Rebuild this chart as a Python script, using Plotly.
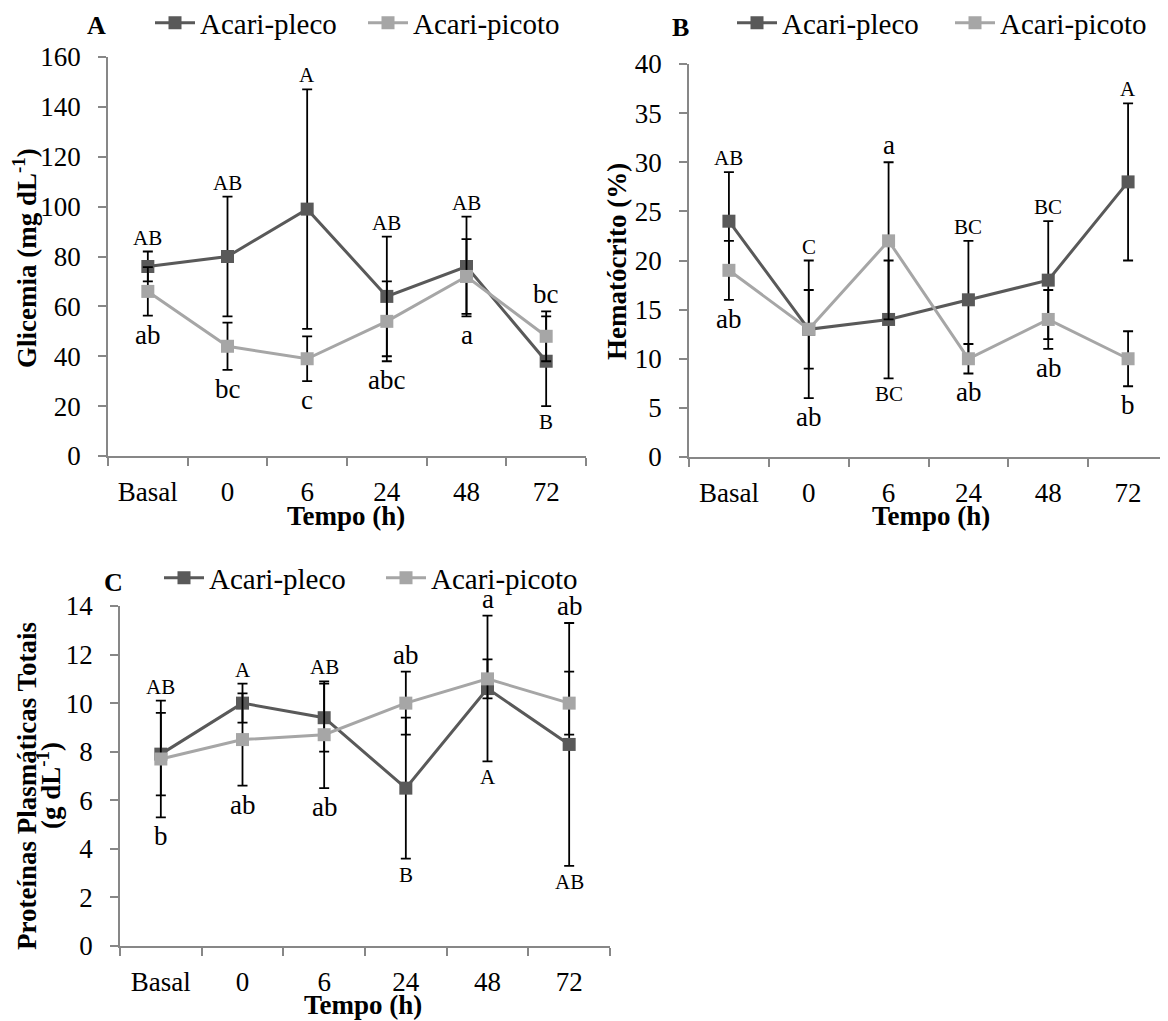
import plotly.graph_objects as go

categories = ["Basal", "0", "6", "24", "48", "72"]
series_names = ["Acari-pleco", "Acari-picoto"]

# Panel A - Glicemia (mg dL-1)
glic_pleco = [76, 80, 99, 64, 76, 38]
glic_pleco_err = [6, 24, 48, 24, 20, 18]
glic_picoto = [66, 44, 39, 54, 72, 48]
glic_picoto_err = [9.7, 9.5, 9, 16, 15, 10]
glic_pleco_lbl = ["AB", "AB", "A", "AB", "AB", "B"]
glic_pleco_side = ["above", "above", "above", "above", "above", "below"]
glic_picoto_lbl = ["ab", "bc", "c", "abc", "a", "bc"]
glic_picoto_side = ["below", "below", "below", "below", "below", "above"]

# Panel B - Hematocrito (%)
hema_pleco = [24, 13, 14, 16, 18, 28]
hema_pleco_err = [5, 7, 6, 6, 6, 8]
hema_picoto = [19, 13, 22, 10, 14, 10]
hema_picoto_err = [3, 4, 8, 1.5, 3, 2.8]
hema_pleco_lbl = ["AB", "C", "BC", "BC", "BC", "A"]
hema_pleco_side = ["above", "above", "below", "above", "above", "above"]
hema_picoto_lbl = ["ab", "ab", "a", "ab", "ab", "b"]
hema_picoto_side = ["below", "below", "above", "below", "below", "below"]

# Panel C - Proteinas plasmaticas totais (g dL-1)
prot_pleco = [7.9, 10.0, 9.4, 6.5, 10.6, 8.3]
prot_pleco_err = [1.7, 0.8, 1.4, 2.9, 3.0, 5.0]
prot_picoto = [7.7, 8.5, 8.7, 10.0, 11.0, 10.0]
prot_picoto_err = [2.4, 1.9, 2.2, 1.3, 0.8, 1.3]
prot_pleco_lbl = ["AB", "A", "AB", "B", "A", "AB"]
prot_pleco_side = ["above", "above", "above", "below", "below", "below"]
prot_picoto_lbl = ["b", "ab", "ab", "ab", "a", "ab"]
prot_picoto_side = ["below", "below", "below", "above", "above", "above"]

FONT = "Liberation Serif"
C_PLECO = "#595959"
C_PICOTO = "#a6a6a6"
AXC = "#878787"
OFF = 8                    # page body margin
FW, FH = 1160, 1013        # figure size


def PX(x):
    return (x - OFF) / FW


def PY(y):
    return 1 - (y - OFF) / FH


fig = go.Figure()

panels = [
    dict(x="x", y="y", xa="xaxis", ya="yaxis", leg="legend", yr=[0, 160], dt=20,
         d1=glic_pleco, e1=glic_pleco_err, d2=glic_picoto, e2=glic_picoto_err,
         l1=glic_pleco_lbl, s1=glic_pleco_side, l2=glic_picoto_lbl, s2=glic_picoto_side,
         px=(108, 586), py=(57, 456)),
    dict(x="x2", y="y2", xa="xaxis2", ya="yaxis2", leg="legend2", yr=[0, 40], dt=5,
         d1=hema_pleco, e1=hema_pleco_err, d2=hema_picoto, e2=hema_picoto_err,
         l1=hema_pleco_lbl, s1=hema_pleco_side, l2=hema_picoto_lbl, s2=hema_picoto_side,
         px=(689, 1168), py=(64, 457)),
    dict(x="x3", y="y3", xa="xaxis3", ya="yaxis3", leg="legend3", yr=[0, 14], dt=2,
         d1=prot_pleco, e1=prot_pleco_err, d2=prot_picoto, e2=prot_picoto_err,
         l1=prot_pleco_lbl, s1=prot_pleco_side, l2=prot_picoto_lbl, s2=prot_picoto_side,
         px=(120, 610), py=(606, 946)),
]

annotations = []
layout_axes = {}
for p in panels:
    for name, d, e, col in [(series_names[0], p["d1"], p["e1"], C_PLECO),
                            (series_names[1], p["d2"], p["e2"], C_PICOTO)]:
        fig.add_trace(go.Scatter(
            x=categories, y=d, name=name, mode="lines+markers",
            xaxis=p["x"], yaxis=p["y"], legend=p["leg"],
            line=dict(color=col, width=3),
            marker=dict(symbol="square", size=13, color=col),
            error_y=dict(type="data", array=e, visible=True, color="black",
                         thickness=1.8, width=5),
        ))
    ups = [max(a + b, c + f) for a, b, c, f in zip(p["d1"], p["e1"], p["d2"], p["e2"])]
    los = [min(a - b, c - f) for a, b, c, f in zip(p["d1"], p["e1"], p["d2"], p["e2"])]
    for lbls, sides, fs in [(p["l1"], p["s1"], 21), (p["l2"], p["s2"], 27)]:
        for i, (t, s) in enumerate(zip(lbls, sides)):
            above = s == "above"
            annotations.append(dict(
                x=i, y=ups[i] if above else los[i], xref=p["x"], yref=p["y"],
                text=t, showarrow=False, xanchor="center",
                yanchor="bottom" if above else "top",
                yshift=1 if above else -3, borderpad=0,
                font=dict(family=FONT, size=fs, color="black")))
    layout_axes[p["xa"]] = dict(
        domain=[PX(p["px"][0]), min(1.0, PX(p["px"][1]))], anchor=p["y"], type="category",
        range=[-0.5, 5.5], showline=True, linecolor=AXC, linewidth=1.5,
        ticks="outside", tickson="boundaries", ticklen=8, tickcolor=AXC, tickwidth=1.5,
        ticklabelstandoff=11, showgrid=False, zeroline=False,
        tickfont=dict(family=FONT, size=27, color="black"))
    layout_axes[p["ya"]] = dict(
        domain=[PY(p["py"][1]), PY(p["py"][0])], anchor=p["x"],
        range=p["yr"], dtick=p["dt"], showline=True, linecolor=AXC, linewidth=1.5,
        ticks="outside", ticklen=8, tickcolor=AXC, tickwidth=1.5,
        ticklabelstandoff=12, showgrid=False, zeroline=False,
        tickfont=dict(family=FONT, size=27, color="black"))

# panel letters
for t, x, y in [("A", 96, 25), ("B", 680, 27), ("C", 113, 582)]:
    annotations.append(dict(x=PX(x), y=PY(y), xref="paper", yref="paper",
                            xanchor="center", yanchor="middle",
                            text="<b>" + t + "</b>", showarrow=False,
                            font=dict(family=FONT, size=26, color="black")))

# axis titles
titles = [
    ("<b>Glicemia (mg dL<sup>-1</sup>)</b>", 25, 258, -90),
    ("<b>Hematócrito (%)</b>", 617, 262, -90),
    ("<b>Proteínas Plasmáticas Totais</b>", 27, 786, -90),
    ("<b>(g dL<sup>-1</sup>)</b>", 49, 786, -90),
    ("<b>Tempo (h)</b>", 346, 516, 0),
    ("<b>Tempo (h)</b>", 931, 516, 0),
    ("<b>Tempo (h)</b>", 363, 1005, 0),
]
for t, x, y, a in titles:
    annotations.append(dict(x=PX(x), y=PY(y), xref="paper", yref="paper",
                            xanchor="center", yanchor="middle",
                            text=t, textangle=a, showarrow=False,
                            font=dict(family=FONT, size=27, color="black")))

leg_common = dict(orientation="h", xanchor="left", yanchor="middle",
                  font=dict(family=FONT, size=29, color="black"),
                  bgcolor="rgba(0,0,0,0)", itemwidth=40, tracegroupgap=0,
                  entrywidthmode="pixels")

fig.update_layout(
    width=FW, height=FH, margin=dict(l=0, r=0, t=0, b=0, autoexpand=False),
    paper_bgcolor="white", plot_bgcolor="white",
    annotations=annotations,
    legend=dict(x=PX(202 - 52), y=PY(23), entrywidth=158, **leg_common),
    legend2=dict(x=PX(784 - 52), y=PY(23), entrywidth=163, **leg_common),
    legend3=dict(x=PX(211 - 52), y=PY(578), entrywidth=167, **leg_common),
    **layout_axes,
)

fig.write_html("out.html")
